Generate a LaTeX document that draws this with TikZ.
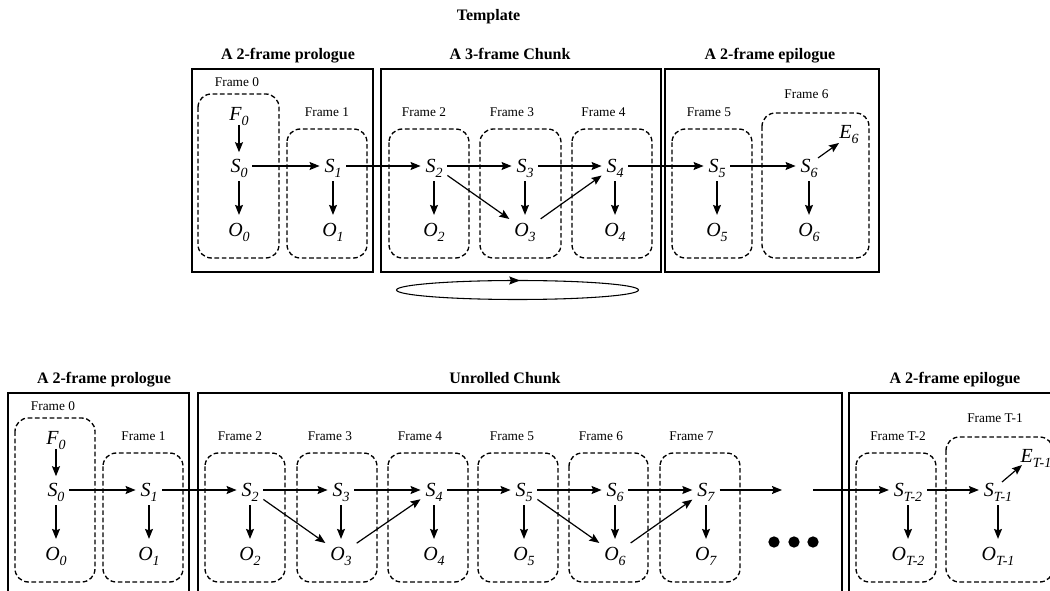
\documentclass[tikz,border=0pt]{standalone}
\usepackage{fontspec}
\setmainfont{Liberation Serif}
\usetikzlibrary{arrows.meta,decorations.markings}
\newcommand\vsub[2]{\textit{#1}\raisebox{-3.5pt}[0pt][0pt]{\fontsize{10.5}{11}\selectfont\textit{#2}}}
\begin{document}
\begin{tikzpicture}[x=0.75pt,y=-0.75pt,
  v/.style={font=\fontsize{15}{17}\selectfont, inner xsep=1.2pt, inner ysep=3.8pt, outer sep=2.5pt},
  flab/.style={font=\fontsize{10}{12}\selectfont, anchor=base, inner sep=0pt},
  ttl/.style={font=\fontsize{12}{14}\selectfont\bfseries, anchor=base, inner sep=0pt},
  frm/.style={draw, dash pattern=on 3.5pt off 2pt, rounded corners=10pt, line width=1pt},
  blk/.style={draw, line width=0.8pt},
  arr/.style={-{Stealth[length=7.5pt,width=6pt,inset=1.2pt]}, line width=0.9pt},
  dot/.style={circle, fill, inner sep=0pt, minimum size=8.5pt}]
\useasboundingbox (0,0) rectangle (1050,591);
\clip (0,0) rectangle (1050,591);

% ---------------- TOP: Template ----------------
\node[ttl] (title) at (488.5,21) {Template};
\node[ttl] (tt1) at (288,60) {A 2-frame prologue};
\node[ttl] (tt2) at (510,60) {A 3-frame Chunk};
\node[ttl] (tt3) at (770,60) {A 2-frame epilogue};

\draw[blk] (192,69) rectangle (373,272);
\draw[blk] (381,69) rectangle (661,272);
\draw[blk] (665,69) rectangle (879,272);

\draw[frm] (198,94) rectangle (279,258);
\draw[frm] (287,129) rectangle (367,258);
\draw[frm] (389,129) rectangle (469,258);
\draw[frm] (480,129) rectangle (561,258);
\draw[frm] (572,129) rectangle (652,258);
\draw[frm] (672,129) rectangle (752,258);
\draw[frm] (762,113) rectangle (869,258);

\node[flab] (tl0) at (237,87) {Frame 0};
\node[flab] (tl1) at (327,117) {Frame 1};
\node[flab] (tl2) at (424,117) {Frame 2};
\node[flab] (tl3) at (512,117) {Frame 3};
\node[flab] (tl4) at (603.5,117) {Frame 4};
\node[flab] (tl5) at (709,117) {Frame 5};
\node[flab] (tl6) at (806.5,99) {Frame 6};

\node[v] (tF0) at (239,114) {\vsub{F}{0}};
\node[v] (tS0) at (239,166) {\vsub{S}{0}};
\node[v] (tO0) at (239,230) {\vsub{O}{0}};
\node[v] (tS1) at (333,166) {\vsub{S}{1}};
\node[v] (tO1) at (333,230) {\vsub{O}{1}};
\node[v] (tS2) at (434,166) {\vsub{S}{2}};
\node[v] (tO2) at (434,230) {\vsub{O}{2}};
\node[v] (tS3) at (525,166) {\vsub{S}{3}};
\node[v] (tO3) at (525,230) {\vsub{O}{3}};
\node[v] (tS4) at (615,166) {\vsub{S}{4}};
\node[v] (tO4) at (615,230) {\vsub{O}{4}};
\node[v] (tS5) at (717,166) {\vsub{S}{5}};
\node[v] (tO5) at (717,230) {\vsub{O}{5}};
\node[v] (tS6) at (809,166) {\vsub{S}{6}};
\node[v] (tO6) at (809,230) {\vsub{O}{6}};
\node[v] (tE6) at (849,132) {\vsub{E}{6}};

\draw[arr, shorten <=-3pt, shorten >=-1pt] (tF0) -- (tS0);
\foreach \i in {0,...,6} {\draw[arr] (tS\i) -- (tO\i);}
\foreach \i/\j in {0/1,1/2,2/3,3/4,4/5,5/6} {\draw[arr] (tS\i) -- (tS\j);}
\draw[arr] (tS2) -- (tO3);
\draw[arr] (tO3) -- (tS4);
\draw[arr] ([xshift=6.75pt,yshift=6pt]tS6.center) -- ([xshift=-7.5pt,yshift=-8.25pt]tE6.center);

\draw[line width=0.8pt, postaction={decorate},
  decoration={markings, mark=at position 0.755 with {\arrow{Stealth[length=8pt,width=6pt,inset=1.2pt]}}}]
  (517.5,290) ellipse [x radius=121, y radius=9.5];

% ---------------- BOTTOM: Unrolled ----------------
\node[ttl] (bt1) at (104,384) {A 2-frame prologue};
\node[ttl] (bt2) at (505,384) {Unrolled Chunk};
\node[ttl] (bt3) at (955,384) {A 2-frame epilogue};

\draw[blk] (8,393) rectangle (189,600);
\draw[blk] (198,393) rectangle (842,600);
\draw[blk] (849,393) rectangle (1065,600);

\draw[frm] (15,418) rectangle (95,582);
\draw[frm] (103,453) rectangle (183,582);
\draw[frm] (205,453) rectangle (285,582);
\draw[frm] (297,453) rectangle (377,582);
\draw[frm] (388,453) rectangle (468,582);
\draw[frm] (478,453) rectangle (558,582);
\draw[frm] (569,453) rectangle (648,582);
\draw[frm] (660,453) rectangle (740,582);
\draw[frm] (856,453) rectangle (936,582);
\draw[frm] (946,437) rectangle (1053,582);

\node[flab] (bl0) at (53,411) {Frame 0};
\node[flab] (bl1) at (143.5,441) {Frame 1};
\node[flab] (bl2) at (240,441) {Frame 2};
\node[flab] (bl3) at (330,441) {Frame 3};
\node[flab] (bl4) at (420,441) {Frame 4};
\node[flab] (bl5) at (512,441) {Frame 5};
\node[flab] (bl6) at (601,441) {Frame 6};
\node[flab] (bl7) at (691.5,441) {Frame 7};
\node[flab] (blT2) at (898,441) {Frame T-2};
\node[flab] (blT1) at (995,423) {Frame T-1};

\node[v] (bF0) at (56,438) {\vsub{F}{0}};
\node[v] (bS0) at (56,490) {\vsub{S}{0}};
\node[v] (bO0) at (56,554) {\vsub{O}{0}};
\node[v] (bS1) at (149,490) {\vsub{S}{1}};
\node[v] (bO1) at (149,554) {\vsub{O}{1}};
\node[v] (bS2) at (250,490) {\vsub{S}{2}};
\node[v] (bO2) at (250,554) {\vsub{O}{2}};
\node[v] (bS3) at (341,490) {\vsub{S}{3}};
\node[v] (bO3) at (341,554) {\vsub{O}{3}};
\node[v] (bS4) at (434,490) {\vsub{S}{4}};
\node[v] (bO4) at (434,554) {\vsub{O}{4}};
\node[v] (bS5) at (524,490) {\vsub{S}{5}};
\node[v] (bO5) at (524,554) {\vsub{O}{5}};
\node[v] (bS6) at (615,490) {\vsub{S}{6}};
\node[v] (bO6) at (615,554) {\vsub{O}{6}};
\node[v] (bS7) at (706,490) {\vsub{S}{7}};
\node[v] (bO7) at (706,554) {\vsub{O}{7}};
\node[v] (bST2) at (908,490) {\vsub{S}{T-2}};
\node[v] (bOT2) at (908,554) {\vsub{O}{T-2}};
\node[v] (bST1) at (998,490) {\vsub{S}{T-1}};
\node[v] (bOT1) at (998,554) {\vsub{O}{T-1}};
\node[v] (bET1) at (1036,456) {\vsub{E}{T-1}};

\coordinate (gapL) at (782,490);
\coordinate (gapR) at (813,490);
\node[dot] (d1) at (774,542) {};
\node[dot] (d2) at (794,542) {};
\node[dot] (d3) at (813,542) {};

\draw[arr, shorten <=-3pt, shorten >=-1pt] (bF0) -- (bS0);
\foreach \i in {0,...,7,T2,T1} {\draw[arr] (bS\i) -- (bO\i);}
\foreach \i/\j in {0/1,1/2,2/3,3/4,4/5,5/6,6/7,T2/T1} {\draw[arr] (bS\i) -- (bS\j);}
\draw[arr] (bS7) -- (gapL);
\draw[arr] (gapR) -- (bST2);
\draw[arr] (bS2) -- (bO3);
\draw[arr] (bO3) -- (bS4);
\draw[arr] (bS5) -- (bO6);
\draw[arr] (bO6) -- (bS7);
\draw[arr] ([xshift=3pt,yshift=6pt]bST1.center) -- ([xshift=-10.5pt,yshift=-6.75pt]bET1.center);
\end{tikzpicture}
\end{document}
